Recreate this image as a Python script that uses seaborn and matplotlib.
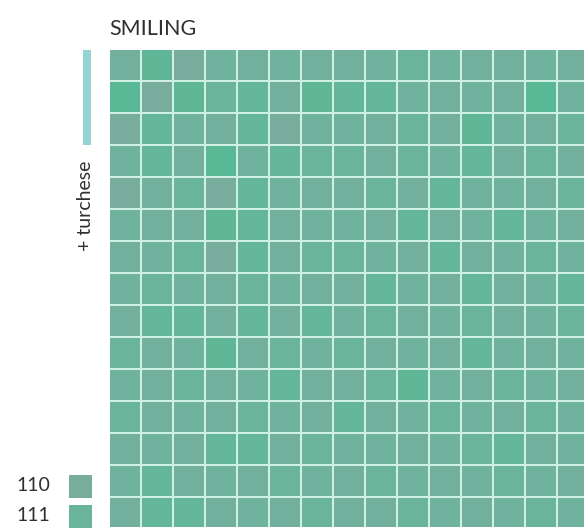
"""Mosaic swatch sheet: SMILING, turchese tones."""

import matplotlib.pyplot as plt
import numpy as np
import pandas as pd
import seaborn as sns
from matplotlib.colors import LinearSegmentedColormap
from matplotlib.patches import Rectangle

TITLE = "SMILING"
SIDE_LABEL = "+ turchese"

# tile shade per row (0 = greyish tile, 1 = saturated mint tile)
ROW_00 = [0.4, 0.8, 0.3, 0.5, 0.4, 0.5, 0.4, 0.4, 0.5, 0.6, 0.5, 0.4, 0.4, 0.5, 0.4]
ROW_01 = [0.9, 0.3, 0.8, 0.6, 0.7, 0.4, 0.8, 0.7, 0.7, 0.5, 0.4, 0.5, 0.4, 0.9, 0.5]
ROW_02 = [0.3, 0.7, 0.5, 0.4, 0.7, 0.3, 0.5, 0.5, 0.4, 0.6, 0.4, 0.8, 0.5, 0.4, 0.6]
ROW_03 = [0.5, 0.7, 0.4, 0.9, 0.5, 0.7, 0.6, 0.6, 0.4, 0.6, 0.5, 0.7, 0.4, 0.6, 0.4]
ROW_04 = [0.3, 0.4, 0.6, 0.3, 0.7, 0.5, 0.4, 0.4, 0.6, 0.4, 0.7, 0.5, 0.5, 0.4, 0.6]
ROW_05 = [0.5, 0.4, 0.4, 0.8, 0.7, 0.4, 0.5, 0.5, 0.4, 0.7, 0.4, 0.5, 0.7, 0.5, 0.4]
ROW_06 = [0.4, 0.5, 0.6, 0.3, 0.7, 0.4, 0.6, 0.6, 0.5, 0.4, 0.7, 0.4, 0.5, 0.6, 0.5]
ROW_07 = [0.5, 0.6, 0.5, 0.4, 0.6, 0.5, 0.4, 0.4, 0.7, 0.5, 0.4, 0.7, 0.4, 0.5, 0.7]
ROW_08 = [0.4, 0.7, 0.7, 0.4, 0.7, 0.4, 0.7, 0.5, 0.6, 0.4, 0.5, 0.6, 0.4, 0.5, 0.6]
ROW_09 = [0.6, 0.4, 0.5, 0.8, 0.4, 0.6, 0.5, 0.6, 0.4, 0.5, 0.4, 0.7, 0.5, 0.4, 0.5]
ROW_10 = [0.5, 0.4, 0.6, 0.4, 0.5, 0.7, 0.4, 0.4, 0.6, 0.8, 0.5, 0.4, 0.6, 0.5, 0.4]
ROW_11 = [0.6, 0.4, 0.5, 0.4, 0.6, 0.5, 0.4, 0.7, 0.4, 0.5, 0.6, 0.5, 0.4, 0.6, 0.5]
ROW_12 = [0.4, 0.5, 0.4, 0.7, 0.7, 0.4, 0.6, 0.5, 0.5, 0.4, 0.5, 0.6, 0.7, 0.4, 0.5]
ROW_13 = [0.5, 0.7, 0.4, 0.5, 0.4, 0.6, 0.5, 0.4, 0.6, 0.5, 0.4, 0.5, 0.6, 0.5, 0.4]
ROW_14 = [0.4, 0.7, 0.7, 0.4, 0.5, 0.4, 0.6, 0.4, 0.4, 0.6, 0.5, 0.4, 0.5, 0.6, 0.5]

SWATCH_CODES = ["110", "111"]
SWATCH_SHADES = [0.3, 0.6]

tiles = pd.DataFrame([
    ROW_00, ROW_01, ROW_02, ROW_03, ROW_04, ROW_05, ROW_06, ROW_07,
    ROW_08, ROW_09, ROW_10, ROW_11, ROW_12, ROW_13, ROW_14,
])
swatches = pd.DataFrame({"shade": SWATCH_SHADES}, index=SWATCH_CODES)

W, H = 584, 532
sns.set_theme(style="white")
plt.rcParams["font.family"] = ["Lato", "DejaVu Sans"]

mint = LinearSegmentedColormap.from_list("mint", ["#78ad9e", "#6ab49c", "#59b996"])
line_col = "#d0f0e4"
text_col = "#303030"


def px_axes(fig, x0, y0, x1, y1):
    return fig.add_axes([x0 / W, 1 - y1 / H, (x1 - x0) / W, (y1 - y0) / H])


fig = plt.figure(figsize=(W / 100, H / 100), dpi=100)

# main mosaic, 32 px pitch starting at (109, 49), cropped by the canvas
ax = px_axes(fig, 110, 50, 584, 527)
sns.heatmap(tiles, cmap=mint, vmin=0.3, vmax=0.9, cbar=False,
            linewidths=1.1, linecolor=line_col, ax=ax,
            xticklabels=False, yticklabels=False)
ax.set_xlim(1 / 32, 475 / 32)
ax.set_ylim(478 / 32, 1 / 32)

fig.text(109 / W, 1 - 35 / H, TITLE, fontsize=15.5,
         color=text_col, ha="left", va="baseline")

# side marker bar and label
fig.add_artist(Rectangle((83 / W, 1 - 145 / H), 8 / W, 95 / H,
                         transform=fig.transFigure, color="#95d3d5", lw=0))
fig.text(85.5 / W, 1 - 206 / H, SIDE_LABEL, rotation=90, fontsize=14,
         color=text_col, ha="center", va="center")

# swatch legend
sax = px_axes(fig, 64.5, 470.5, 94.5, 530.5)
sns.heatmap(swatches, cmap=mint, vmin=0.3, vmax=0.9, cbar=False,
            linewidths=5, linecolor="white", ax=sax, xticklabels=False)
sax.tick_params(axis="y", length=0, pad=10, labelsize=14, labelcolor=text_col)
for t in sax.get_yticklabels():
    t.set_rotation(0)

fig.savefig("out.png", dpi=100)
